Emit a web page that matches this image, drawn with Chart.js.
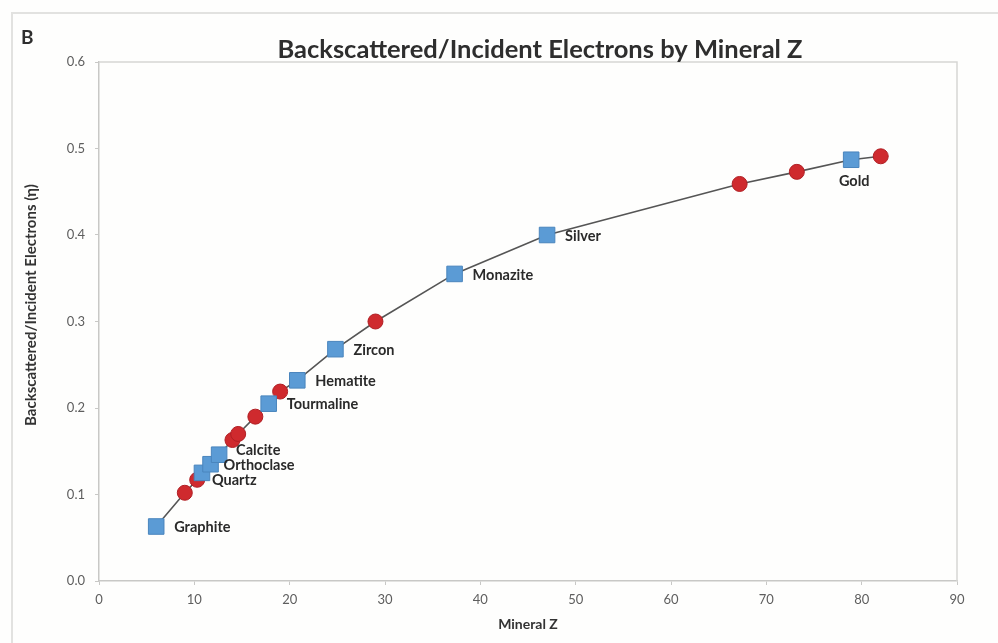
<!DOCTYPE html>
<html>
<head>
<meta charset="utf-8">
<script src="https://cdn.jsdelivr.net/npm/chart.js@4.4.0/dist/chart.umd.min.js"></script>
<style>
  html, body { margin: 0; padding: 0; background: #fefefd; }
  #wrap { position: relative; width: 998px; height: 643px; overflow: hidden; }
  #frame { position: absolute; left: 11px; top: 12px; width: 1000px; height: 700px; border: 2px solid #e2e2e0; box-sizing: border-box; }
  #c { position: absolute; left: 0; top: 0; }
</style>
</head>
<body>
<div id="wrap">
  <div id="frame"></div>
  <canvas id="c" width="998" height="643"></canvas>
</div>
<script>
// ---- Data ----
const mineralNames = ['Graphite', 'Quartz', 'Orthoclase', 'Calcite', 'Tourmaline', 'Hematite', 'Zircon', 'Monazite', 'Silver', 'Gold'];
const mineralZ     = [6, 10.8, 11.7, 12.6, 17.8, 20.8, 24.8, 37.3, 47, 78.9];
const mineralEta   = [0.063, 0.125, 0.135, 0.146, 0.205, 0.232, 0.268, 0.355, 0.400, 0.487];

const elementZ     = [9, 10.3, 14, 14.6, 16.4, 19, 29, 67.2, 73.2, 82];
const elementEta   = [0.102, 0.117, 0.163, 0.170, 0.190, 0.219, 0.300, 0.459, 0.473, 0.491];

const xTicks = [0, 10, 20, 30, 40, 50, 60, 70, 80, 90];
const yTicks = [0.0, 0.1, 0.2, 0.3, 0.4, 0.5, 0.6];

const chartTitle = 'Backscattered/Incident Electrons by Mineral Z';
const panelLetter = 'B';
const xTitle = 'Mineral Z';
const yTitle = 'Backscattered/Incident Electrons (\u03B7)';

// ---- Build datasets ----
const minerals = mineralZ.map((z, i) => ({ x: z, y: mineralEta[i], label: mineralNames[i] }));
const elements = elementZ.map((z, i) => ({ x: z, y: elementEta[i] }));
const curve = minerals.concat(elements).map(p => ({ x: p.x, y: p.y })).sort((a, b) => a.x - b.x);

const FONT = 'Lato, "Liberation Sans", Arial, sans-serif';

// label placement style (pixel nudges for the crowded labels)
const labelNudge = { Quartz: [-8, 6], Orthoclase: [-5, 0], Calcite: [-1, -5] };

const decorPlugin = {
  id: 'decor',
  beforeDatasetsDraw(chart) {
    const { ctx, chartArea: a } = chart;
    ctx.save();
    ctx.strokeStyle = '#d6d6d4';
    ctx.lineWidth = 1.5;
    ctx.beginPath();
    ctx.moveTo(a.left, a.top);
    ctx.lineTo(a.right, a.top);
    ctx.lineTo(a.right, a.bottom);
    ctx.stroke();
    ctx.restore();
  },
  afterDatasetsDraw(chart) {
    const { ctx } = chart;
    const meta = chart.getDatasetMeta(2);
    ctx.save();
    ctx.font = 'bold 14.5px ' + FONT;
    ctx.fillStyle = '#2a2a2a';
    meta.data.forEach((el, i) => {
      const name = minerals[i].label;
      ctx.textBaseline = 'middle';
      if (name === 'Gold') {
        ctx.textAlign = 'center';
        ctx.fillText(name, el.x + 3, el.y + 22);
      } else {
        const n = labelNudge[name] || [0, 0];
        ctx.textAlign = 'left';
        ctx.fillText(name, el.x + 18 + n[0], el.y + 1 + n[1]);
      }
    });
    ctx.restore();
  },
  afterDraw(chart) {
    const { ctx } = chart;
    ctx.save();
    ctx.fillStyle = '#2e2e2e';
    ctx.textBaseline = 'middle';
    ctx.textAlign = 'left';
    ctx.font = 'bold 19px ' + FONT;
    ctx.fillText(panelLetter, 21, 38);
    ctx.textAlign = 'center';
    ctx.font = 'bold 25.5px ' + FONT;
    ctx.fillText(chartTitle, 540, 50);
    // y axis title
    ctx.translate(31, 305);
    ctx.rotate(-Math.PI / 2);
    ctx.font = 'bold 15px ' + FONT;
    ctx.fillStyle = '#333';
    ctx.fillText(yTitle, 0, 0);
    ctx.restore();
  }
};

new Chart(document.getElementById('c'), {
  type: 'scatter',
  data: {
    datasets: [
      {
        label: 'Curve',
        type: 'line',
        data: curve,
        borderColor: '#555555',
        borderWidth: 1.6,
        pointRadius: 0,
        tension: 0,
        fill: false,
        order: 3
      },
      {
        label: 'Elements',
        data: elements,
        pointStyle: 'circle',
        pointRadius: 7.5,
        backgroundColor: '#cf2a2e',
        borderColor: '#b01f24',
        borderWidth: 1,
        order: 2
      },
      {
        label: 'Minerals',
        data: minerals,
        pointStyle: 'rect',
        pointRadius: 11,
        backgroundColor: '#5b9bd5',
        borderColor: '#4a85bd',
        borderWidth: 1,
        order: 1
      }
    ]
  },
  options: {
    responsive: false,
    animation: false,
    layout: { padding: { left: 18, right: 41, top: 62, bottom: 6 } },
    plugins: {
      legend: { display: false },
      tooltip: { enabled: false },
      title: { display: false }
    },
    scales: {
      x: {
        type: 'linear',
        min: 0, max: 90,
        afterBuildTicks(scale) { scale.ticks = xTicks.map(v => ({ value: v })); },
        afterFit(scale) { scale.height = 643 - 581 - 6; },
        grid: { drawOnChartArea: false, drawTicks: true, tickLength: 4, color: '#c8c8c6' },
        border: { color: '#c8c8c6', width: 1.5 },
        ticks: { color: '#5e5e5e', font: { family: FONT, size: 13 }, padding: 7, maxRotation: 0 },
        title: { display: true, text: xTitle, color: '#333', font: { family: FONT, size: 14, weight: 'bold' }, padding: { top: 0, bottom: 4 } }
      },
      y: {
        type: 'linear',
        min: 0, max: 0.6,
        afterBuildTicks(scale) { scale.ticks = yTicks.map(v => ({ value: v })); },
        afterFit(scale) { scale.width = 99 - 18; },
        grid: { drawOnChartArea: false, drawTicks: true, tickLength: 4, color: '#c8c8c6' },
        border: { color: '#c8c8c6', width: 1.5 },
        ticks: { color: '#5e5e5e', font: { family: FONT, size: 13 }, padding: 10, callback: v => v.toFixed(1) },
        title: { display: false }
      }
    }
  },
  plugins: [decorPlugin]
});
</script>
</body>
</html>
